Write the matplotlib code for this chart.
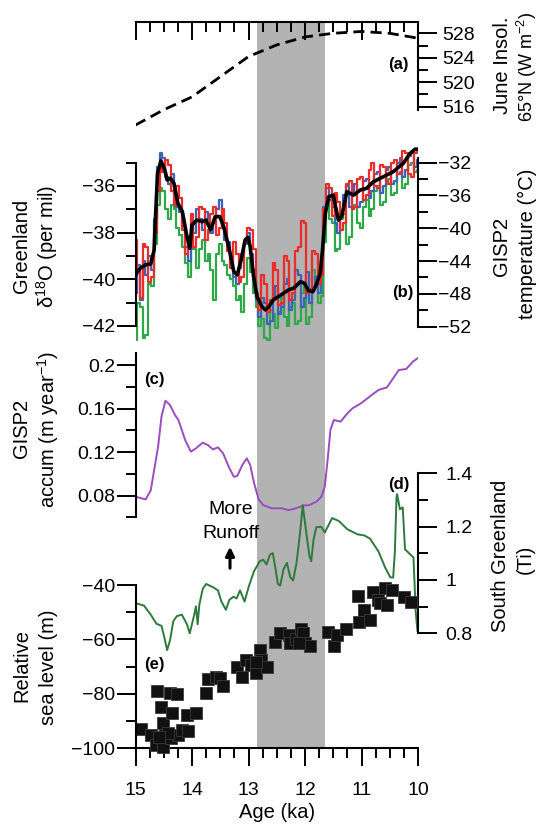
import matplotlib
matplotlib.use("Agg")
import matplotlib.pyplot as plt
from matplotlib.ticker import FixedLocator

plt.rcParams["font.family"] = ["Liberation Sans", "DejaVu Sans"]
plt.rcParams["mathtext.fontset"] = "custom"
plt.rcParams["mathtext.rm"] = "Liberation Sans"
plt.rcParams["mathtext.it"] = "Liberation Sans:italic"

# (a) June insolation 65N
ins_age = [15.0, 14.5, 14.0, 13.5, 13.0, 12.5, 12.0, 11.5, 11.0, 10.5, 10.0]
ins_val = [513.0, 515.5, 517.6, 520.9, 524.2, 526.1, 527.4, 528.0, 528.3, 528.0, 527.2]

# (b) Greenland d18O, three cores (50-yr steps) + smoothed
b_age = [15.0, 14.95, 14.9, 14.85, 14.8, 14.75, 14.7, 14.65, 14.6, 14.55,
         14.5, 14.45, 14.4, 14.35, 14.3, 14.25, 14.2, 14.15, 14.1, 14.05,
         14.0, 13.95, 13.9, 13.85, 13.8, 13.75, 13.7, 13.65, 13.6, 13.55,
         13.5, 13.45, 13.4, 13.35, 13.3, 13.25, 13.2, 13.15, 13.1, 13.05,
         13.0, 12.95, 12.9, 12.85, 12.8, 12.75, 12.7, 12.65, 12.6, 12.55,
         12.5, 12.45, 12.4, 12.35, 12.3, 12.25, 12.2, 12.15, 12.1, 12.05,
         12.0, 11.95, 11.9, 11.85, 11.8, 11.75, 11.7, 11.65, 11.6, 11.55,
         11.5, 11.45, 11.4, 11.35, 11.3, 11.25, 11.2, 11.15, 11.1, 11.05,
         11.0, 10.95, 10.9, 10.85, 10.8, 10.75, 10.7, 10.65, 10.6, 10.55,
         10.5, 10.45, 10.4, 10.35, 10.3, 10.25, 10.2, 10.15, 10.1, 10.05,
         10.0]
b_blue = [-40.6, -39.4, -40.9, -39.2, -39.8, -39.0, -39.6, -37.4, -35.2, -34.6,
          -34.8, -35.6, -35.9, -35.5, -36.4, -36.9, -37.1, -37.7, -38.6, -39.2,
          -37.6, -38.0, -37.0, -37.4, -37.9, -37.1, -37.4, -38.0, -37.6, -37.0,
          -36.6, -37.7, -38.3, -38.4, -39.0, -39.9, -40.2, -39.5, -38.9, -38.5,
          -38.0, -38.9, -39.6, -40.9, -41.6, -40.8, -41.0, -41.9, -41.8, -40.7,
          -40.3, -41.5, -41.2, -40.2, -40.0, -41.3, -40.9, -39.6, -39.8, -41.2,
          -40.8, -39.7, -41.0, -40.4, -39.9, -40.6, -39.0, -36.9, -36.1, -36.6,
          -36.9, -37.6, -38.0, -37.1, -36.4, -36.0, -36.9, -36.3, -35.9, -36.9,
          -36.7, -35.8, -35.7, -36.5, -36.2, -35.5, -35.4, -36.3, -36.0, -35.3,
          -35.2, -35.9, -35.8, -35.0, -34.8, -35.6, -35.3, -34.7, -34.6, -35.2,
          -34.9]
b_red = [-38.3, -39.6, -40.8, -38.5, -38.6, -40.1, -39.9, -38.0, -36.2, -35.0,
         -35.4, -34.9, -35.1, -36.2, -36.8, -36.0, -36.5, -37.9, -38.9, -38.2,
         -37.2, -38.6, -38.2, -36.9, -37.0, -38.3, -37.9, -37.2, -36.9, -38.1,
         -37.8, -37.0, -37.6, -38.8, -39.5, -38.4, -38.9, -40.1, -39.9, -38.4,
         -37.8, -37.9, -38.7, -40.6, -41.3, -39.8, -40.2, -41.4, -40.9, -39.3,
         -39.6, -41.1, -41.0, -39.0, -39.2, -40.9, -40.6, -38.8, -38.6, -37.5,
         -37.6, -40.6, -40.4, -38.8, -38.9, -40.2, -39.8, -37.0, -35.9, -36.1,
         -37.3, -36.3, -36.7, -37.9, -37.6, -35.9, -35.8, -37.0, -36.9, -35.7,
         -35.6, -36.6, -36.4, -35.3, -35.0, -36.0, -36.1, -35.1, -35.2, -35.8,
         -35.9, -35.0, -34.9, -35.5, -35.4, -34.5, -34.6, -35.5, -35.6, -34.6,
         -34.5]
b_green = [-42.6, -41.0, -41.2, -42.5, -42.4, -40.2, -40.3, -38.5, -36.8, -36.1,
           -36.2, -37.0, -37.4, -36.8, -37.0, -37.8, -38.1, -38.6, -39.3, -39.9,
           -38.4, -38.7, -39.5, -38.7, -38.3, -39.2, -38.9, -39.6, -40.9, -38.9,
           -38.5, -39.2, -39.4, -39.8, -40.0, -40.3, -40.9, -40.7, -41.4, -40.2,
           -39.1, -39.7, -40.6, -41.2, -42.0, -41.7, -42.5, -42.6, -41.3, -41.5,
           -42.1, -41.4, -40.8, -41.6, -42.0, -41.2, -41.0, -41.9, -41.8, -40.6,
           -40.3, -41.9, -41.6, -39.6, -39.9, -41.0, -40.7, -38.4, -36.6, -37.4,
           -37.6, -38.8, -38.7, -37.4, -37.2, -38.5, -38.2, -37.0, -36.8, -37.6,
           -37.8, -36.9, -36.6, -37.3, -37.0, -36.2, -36.0, -36.8, -36.7, -35.9,
           -35.7, -36.4, -36.3, -35.5, -35.4, -36.1, -35.9, -35.1, -35.0, -35.4,
           -35.3]
bk_age = [14.98, 14.92, 14.82, 14.73, 14.67, 14.65, 14.61, 14.55, 14.48, 14.44,
          14.38, 14.32, 14.25, 14.17, 14.10, 14.04, 14.00, 13.91, 13.82, 13.75,
          13.67, 13.59, 13.51, 13.44, 13.35, 13.26, 13.20, 13.13, 13.06, 13.01,
          12.97, 12.91, 12.85, 12.76, 12.70, 12.64, 12.56, 12.47, 12.38, 12.29,
          12.20, 12.08, 12.01, 11.94, 11.86, 11.79, 11.73, 11.69, 11.64, 11.58,
          11.50, 11.41, 11.35, 11.26, 11.14, 11.02, 10.91, 10.79, 10.61, 10.44,
          10.26, 10.14, 10.05, 10.01]
bk_d18o = [-39.74, -39.53, -39.38, -39.34, -38.74, -37.53, -35.46, -34.92, -35.31, -35.74,
           -35.67, -35.88, -36.74, -37.10, -38.03, -38.67, -37.67, -37.46, -37.53, -37.46,
           -37.88, -37.31, -37.31, -37.74, -38.60, -39.67, -39.81, -39.17, -38.31, -38.20,
           -38.60, -39.88, -40.74, -41.17, -41.31, -41.17, -40.88, -40.74, -40.60, -40.45,
           -40.38, -40.10, -40.17, -40.48, -40.53, -40.17, -39.74, -38.74, -37.17, -36.46,
           -36.39, -37.46, -37.31, -36.24, -36.39, -36.17, -36.10, -35.82, -35.60, -35.39,
           -35.03, -34.60, -34.42, -34.42]

# (c) GISP2 accumulation
c_age = [15.0, 14.82, 14.73, 14.60, 14.54, 14.47, 14.39, 14.30, 14.24, 14.12,
         14.02, 13.93, 13.81, 13.72, 13.63, 13.54, 13.45, 13.35, 13.26, 13.20,
         13.11, 13.03, 12.97, 12.90, 12.82, 12.74, 12.59, 12.41, 12.29, 12.16,
         12.04, 11.92, 11.80, 11.71, 11.65, 11.60, 11.55, 11.49, 11.37, 11.25,
         11.16, 11.01, 10.82, 10.70, 10.55, 10.46, 10.34, 10.21, 10.09, 10.01]
c_acc = [0.0791, 0.0766, 0.085, 0.125, 0.1526, 0.1672, 0.1633, 0.154, 0.1495, 0.131,
         0.1204, 0.1235, 0.1287, 0.1265, 0.1225, 0.1244, 0.1189, 0.1066, 0.0974, 0.098,
         0.1082, 0.1143, 0.1082, 0.0913, 0.0766, 0.0714, 0.0684, 0.0684, 0.0668, 0.0684,
         0.0708, 0.0714, 0.0745, 0.0791, 0.0883, 0.1128, 0.1403, 0.1495, 0.148, 0.1556,
         0.1602, 0.1648, 0.1724, 0.177, 0.1795, 0.1862, 0.1954, 0.1963, 0.2031, 0.2061]

# (d) South Greenland Ti
d_age = [15.0, 14.85, 14.73, 14.63, 14.54, 14.49, 14.44, 14.39, 14.33, 14.27,
         14.18, 14.09, 14.04, 13.96, 13.93, 13.90, 13.87, 13.81, 13.75, 13.63,
         13.54, 13.48, 13.40, 13.34, 13.27, 13.21, 13.15, 13.07, 12.99, 12.90,
         12.80, 12.74, 12.68, 12.62, 12.57, 12.53, 12.48, 12.44, 12.38, 12.32,
         12.26, 12.21, 12.15, 12.09, 12.04, 11.96, 11.92, 11.89, 11.85, 11.80,
         11.71, 11.65, 11.52, 11.40, 11.25, 11.07, 10.95, 10.85, 10.70, 10.58,
         10.49, 10.44, 10.41, 10.38, 10.37, 10.32, 10.27, 10.23, 10.08, 10.04, 10.01]
d_ti = [0.913, 0.904, 0.870, 0.836, 0.828, 0.785, 0.737, 0.773, 0.846, 0.864,
        0.870, 0.834, 0.800, 0.870, 0.901, 0.834, 0.907, 0.967, 0.985, 0.973,
        0.961, 0.919, 0.888, 0.925, 0.937, 0.931, 0.961, 0.919, 0.979, 1.034,
        1.070, 1.076, 1.058, 1.095, 1.101, 1.052, 0.985, 0.979, 1.040, 1.064,
        1.010, 0.998, 1.064, 1.173, 1.281, 1.149, 1.088, 1.070, 1.149, 1.198,
        1.199, 1.178, 1.232, 1.221, 1.190, 1.171, 1.167, 1.155, 1.107, 1.046,
        1.010, 1.009, 1.103, 1.310, 1.322, 1.265, 1.272, 1.115, 1.084, 0.879, 0.810]

# (e) relative sea level
e_age = [14.91, 14.73, 14.62, 14.54, 14.52, 14.48, 14.63, 14.51, 14.39, 14.27,
         14.36, 14.38, 14.24, 14.18, 14.07, 14.09, 13.93, 14.42, 14.59, 13.75,
         13.72, 13.57, 13.51, 13.46, 13.20, 13.11, 13.05, 12.96, 12.87, 12.80,
         12.77, 12.68, 12.87, 12.53, 12.44, 12.29, 12.26, 12.16, 12.07, 12.04,
         12.00, 11.92, 12.10, 11.59, 11.49, 11.43, 11.28, 11.07, 10.95, 11.04,
         10.85, 10.79, 10.70, 10.58, 10.67, 10.46, 10.55, 10.24, 10.12]
e_rsl = [-93.0, -95.1, -78.8, -84.7, -90.8, -95.1, -98.8, -99.4, -79.8, -80.0,
         -86.9, -96.3, -95.1, -93.2, -93.5, -87.7, -87.1, -94.5, -95.7, -79.8,
         -74.6, -73.9, -74.3, -77.0, -70.0, -73.7, -67.5, -69.4, -72.4, -63.9,
         -67.5, -70.0, -68.2, -60.8, -57.7, -58.4, -61.4, -60.0, -56.0, -57.7,
         -61.2, -62.4, -61.4, -57.1, -62.6, -58.4, -56.0, -44.0, -49.2, -53.5,
         -52.9, -42.4, -45.5, -41.2, -46.5, -41.8, -47.3, -44.3, -46.1]

yd_start, yd_end = 12.85, 11.64
age_major = [15, 14, 13, 12, 11, 10]
age_minor = [14.75, 14.5, 14.25, 13.75, 13.5, 13.25, 12.75, 12.5, 12.25,
             11.75, 11.5, 11.25, 10.75, 10.5, 10.25]

W, H = 539, 827
X0, X1 = 135.5, 418.0
fig = plt.figure(figsize=(W / 100, H / 100), dpi=100)


def panel(y0, y1, va, ya, vb, yb):
    # axes placed in pixel rows, y limits from two reference ticks
    ax = fig.add_axes([X0 / W, 1 - y1 / H, (X1 - X0) / W, (y1 - y0) / H])
    ax.set_xlim(15, 10)
    k = (vb - va) / (yb - ya)
    ax.set_ylim(va + (y1 - ya) * k, va + (y0 - ya) * k)
    ax.patch.set_visible(False)
    for s in ax.spines.values():
        s.set_visible(False)
    ax.set_xticks([])
    ax.set_yticks([])
    return ax


def fmt(v):
    return f"{v:g}".replace("-", "\u2212")


def yaxis(ax, side, lo, hi, major, minor, pad=2):
    sp = ax.spines[side]
    sp.set_visible(True)
    sp.set_bounds(lo, hi)
    sp.set_linewidth(1.5)
    ax.yaxis.set_ticks_position(side)
    ax.yaxis.set_major_locator(FixedLocator(major))
    ax.yaxis.set_minor_locator(FixedLocator(minor))
    ax.set_yticklabels([fmt(v) for v in major])
    ax.tick_params(axis="y", which="major", length=13.5, width=1.4,
                   labelsize=14, pad=pad, direction="out")
    ax.tick_params(axis="y", which="minor", length=7, width=1.4, direction="out")


# background: shading + top/bottom age axes
bg = panel(21.7, 748.2, 0, 748.2, 1, 21.7)
bg.axvspan(yd_end, yd_start, color="#b3b3b3", lw=0)
for side in ("top", "bottom"):
    bg.spines[side].set_visible(True)
    bg.spines[side].set_linewidth(1.5)
bg.xaxis.set_major_locator(FixedLocator(age_major))
bg.xaxis.set_minor_locator(FixedLocator(age_minor))
bg.tick_params(axis="x", which="major", bottom=True, top=True, length=13,
               width=1.4, labelsize=14, pad=11, direction="out")
bg.tick_params(axis="x", which="minor", bottom=True, top=True, length=7,
               width=1.4, direction="out")
for t in bg.xaxis.get_major_ticks() + bg.xaxis.get_minor_ticks():
    t.tick2line.set_marker(matplotlib.lines.TICKDOWN)
bg.set_xticklabels([str(v) for v in age_major])
bg.set_xlabel("Age (ka)", fontsize=14.5, labelpad=3)

# (a)
ax_a = panel(21.7, 130, 528, 33.3, 516, 106.7)
ax_a.plot(ins_age, ins_val, color="black", lw=2.0, dashes=(4, 2.2))
yaxis(ax_a, "right", 515.5, 529.9, [516, 520, 524, 528], [518, 522, 526], pad=4)

# (b)
ax_b = panel(140, 345, -36, 186, -42, 326)
ax_b.plot(b_age, b_green, color="#2fa84a", lw=1.6, drawstyle="steps-mid")
ax_b.plot(b_age, b_blue, color="#3d62b8", lw=1.6, drawstyle="steps-mid")
ax_b.plot(b_age, b_red, color="#ea2d28", lw=1.6, drawstyle="steps-mid")
ax_b.plot(bk_age, bk_d18o, color="black", lw=2.6)
yaxis(ax_b, "left", -42, -35, [-42, -40, -38, -36], [-41, -39, -37, -35], pad=1)
ax_bt = panel(140, 345, -32, 162.7, -52, 326.7)
yaxis(ax_bt, "right", -52, -31.4, [-52, -48, -44, -40, -36, -32],
      [-50, -46, -42, -38, -34], pad=1)

# (c)
ax_c = panel(345, 520, 0.2, 365, 0.08, 495.7)
ax_c.plot(c_age, c_acc, color="#9a4dbf", lw=1.4)
yaxis(ax_c, "left", 0.06, 0.211, [0.08, 0.12, 0.16, 0.2], [0.06, 0.10, 0.14, 0.18], pad=1)

# (d)
ax_d = panel(460, 660, 1.4, 473.3, 0.8, 633.3)
ax_d.plot(d_age, d_ti, color="#2e7a3c", lw=1.4)
yaxis(ax_d, "right", 0.8, 1.4, [0.8, 1.0, 1.2, 1.4], [0.9, 1.1, 1.3], pad=6)

# (e)
ax_e = panel(570, 748.2, -40, 585, -100, 748.2)
ax_e.plot(e_age, e_rsl, ls="none", marker="s", ms=8.8, color="#111111",
          mec="#3a3a3a", mew=0.6, clip_on=False)
yaxis(ax_e, "left", -100, -40, [-100, -80, -60, -40], [-90, -70, -50], pad=1)


def ftext(x, y, s, **kw):
    fig.text(x / W, 1 - y / H, s, ha="center", va="center", **kw)


lab = dict(fontsize=14.5, rotation=90)
ftext(21.7, 246, "Greenland", **lab)
ftext(47, 246, "\u03b4$^{18}$O (per mil)", **lab)
ftext(21, 428, "GISP2", **lab)
ftext(48, 429, "accum (m year$^{-1}$)", **lab)
ftext(22, 665, "Relative", **lab)
ftext(49, 667, "sea level (m)", **lab)
ftext(502, 65, "June Insol.", **lab)
ftext(527, 67, "65\u00b0N (W m$^{-2}$)", fontsize=13, rotation=90)
ftext(502, 246, "GISP2", **lab)
ftext(527, 244, "temperature (\u00b0C)", **lab)
ftext(501, 556, "South Greenland", **lab)
ftext(525, 559, "(Ti)", **lab)

tag = dict(fontsize=12, fontweight="bold")
ftext(398, 64, "(a)", **tag)
ftext(403, 292, "(b)", **tag)
ftext(154, 380, "(c)", **tag)
ftext(399, 485, "(d)", **tag)
ftext(154, 665, "(e)", **tag)

ftext(231, 509, "More", fontsize=14)
ftext(231, 534, "Runoff", fontsize=14)
fig.add_artist(matplotlib.patches.FancyArrowPatch(
    (230 / W, 1 - 571 / H), (230 / W, 1 - 544 / H), transform=fig.transFigure,
    arrowstyle="-|>", mutation_scale=13, lw=2.2, color="black"))

fig.savefig("out.png", dpi=100)
